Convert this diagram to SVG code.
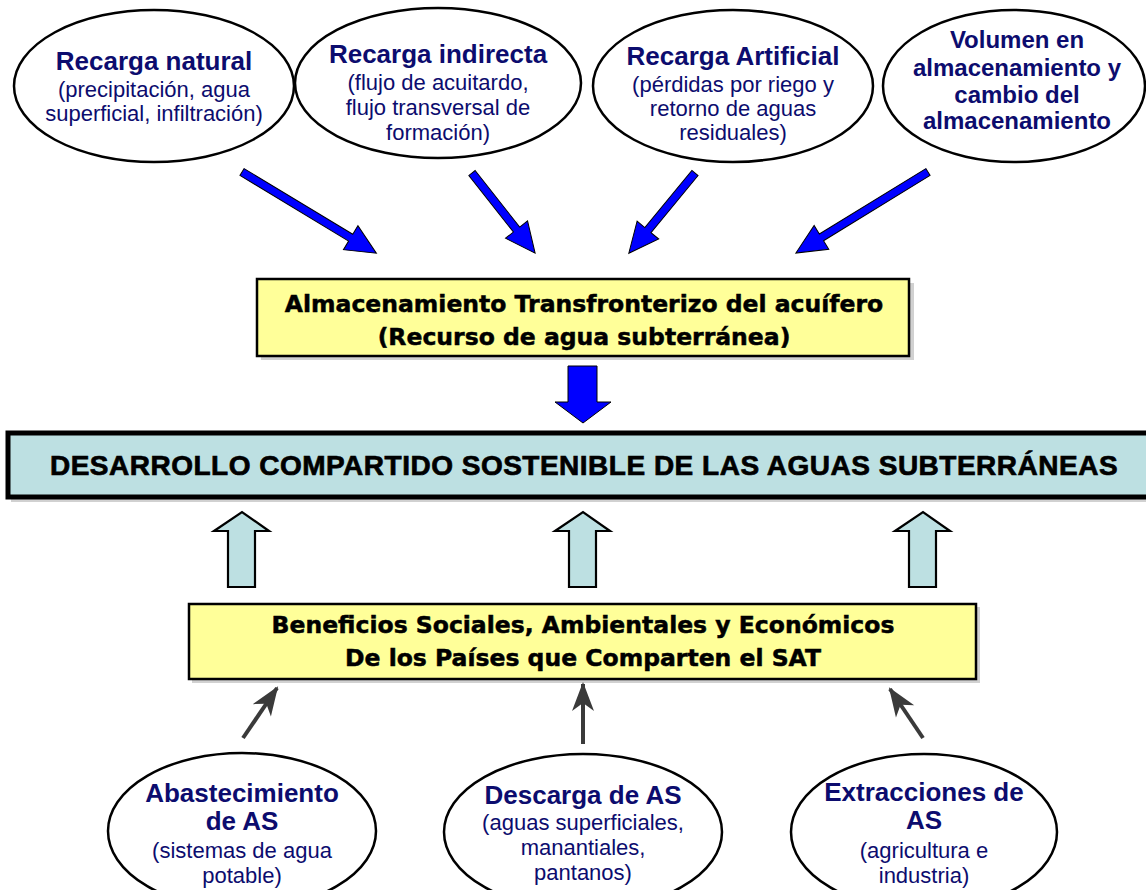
<svg xmlns="http://www.w3.org/2000/svg" width="1146" height="890" viewBox="0 0 1146 890">
<style>
.ell{fill:#fff;stroke:#000;stroke-width:2.5}
.t{font-family:"Liberation Sans",Arial,sans-serif;fill:#0c0c6e;text-anchor:middle}
.tb{font-weight:bold;font-size:26px}
.tv{font-weight:bold;font-size:24px}
.ts{font-size:22px}
.box{fill:#ffff99;stroke:#000;stroke-width:2.5}
.shadow{fill:#9a9a9a;opacity:0.45}
.bt{font-family:"DejaVu Sans",Verdana,sans-serif;font-weight:bold;font-size:23.5px;fill:#000;stroke:#000;stroke-width:0.5;text-anchor:middle}
.blue{fill:#0000ff;stroke:#000;stroke-width:1}
.hollow{fill:#bde0e2;stroke:#000;stroke-width:2.2}
.dark{stroke:#3a3a3a;stroke-width:4;fill:none}
</style>
<defs>
<marker id="dh" markerUnits="userSpaceOnUse" markerWidth="34" markerHeight="26" viewBox="-30 -13 34 26" refX="0" refY="0" orient="auto">
<path d="M2,0 L-27,-11 L-19,0 L-27,11 Z" fill="#3a3a3a"/>
</marker>
</defs>

<g id="n-recarga-natural">
<ellipse class="ell" cx="154" cy="86" rx="140" ry="76"/>
<text class="t tb" x="154" y="70">Recarga natural</text>
<text class="t ts" x="154" y="97">(precipitación, agua</text>
<text class="t ts" x="154" y="121">superficial, infiltración)</text>
</g>
<g id="n-recarga-indirecta">
<ellipse class="ell" cx="438" cy="83" rx="143" ry="75"/>
<text class="t tb" x="438" y="63">Recarga indirecta</text>
<text class="t ts" x="438" y="90">(flujo de acuitardo,</text>
<text class="t ts" x="438" y="115">flujo transversal de</text>
<text class="t ts" x="438" y="140">formación)</text>
</g>
<g id="n-recarga-artificial">
<ellipse class="ell" cx="733" cy="86" rx="140" ry="76"/>
<text class="t tb" x="733" y="65">Recarga Artificial</text>
<text class="t ts" x="733" y="92">(pérdidas por riego y</text>
<text class="t ts" x="733" y="116">retorno de aguas</text>
<text class="t ts" x="733" y="140">residuales)</text>
</g>
<g id="n-volumen">
<ellipse class="ell" cx="1014" cy="86" rx="131" ry="76"/>
<text class="t tv" x="1017" y="48">Volumen en</text>
<text class="t tv" x="1017" y="76">almacenamiento y</text>
<text class="t tv" x="1017" y="103">cambio del</text>
<text class="t tv" x="1017" y="129">almacenamiento</text>
</g>

<g id="n-almacenamiento">
<rect class="shadow" x="261" y="283" width="653" height="77"/>
<rect class="box" x="257" y="279" width="652" height="77"/>
<text class="bt" x="584" y="312">Almacenamiento Transfronterizo del acuífero</text>
<text class="bt" x="584" y="345">(Recurso de agua subterránea)</text>
</g>

<g id="n-desarrollo">
<rect class="shadow" x="11" y="436" width="1145" height="66"/>
<rect x="8" y="433" width="1145" height="64" fill="#bde0e2" stroke="#000" stroke-width="5"/>
<text x="584" y="475" font-family="'Liberation Sans',Arial,sans-serif" font-weight="bold" font-size="28" letter-spacing="0.5" text-anchor="middle" fill="#000" stroke="#000" stroke-width="0.7">DESARROLLO COMPARTIDO SOSTENIBLE DE LAS AGUAS SUBTERRÁNEAS</text>
</g>

<g id="n-beneficios">
<rect class="shadow" x="192" y="607" width="788" height="76"/>
<rect class="box" x="189" y="604" width="787" height="75"/>
<text class="bt" x="583" y="633">Beneficios Sociales, Ambientales y Económicos</text>
<text class="bt" x="583" y="666">De los Países que Comparten el SAT</text>
</g>

<g id="n-abastecimiento">
<ellipse class="ell" cx="242" cy="831" rx="134" ry="78"/>
<text class="t tb" x="242" y="802">Abastecimiento</text>
<text class="t tb" x="242" y="830">de AS</text>
<text class="t ts" x="242" y="858">(sistemas de agua</text>
<text class="t ts" x="242" y="883">potable)</text>
</g>
<g id="n-descarga">
<ellipse class="ell" cx="583" cy="832" rx="139" ry="78"/>
<text class="t tb" x="583" y="804">Descarga de AS</text>
<text class="t ts" x="583" y="830">(aguas superficiales,</text>
<text class="t ts" x="583" y="855">manantiales,</text>
<text class="t ts" x="583" y="880">pantanos)</text>
</g>
<g id="n-extracciones">
<ellipse class="ell" cx="924" cy="832" rx="133" ry="78"/>
<text class="t tb" x="924" y="801">Extracciones de</text>
<text class="t tb" x="924" y="829">AS</text>
<text class="t ts" x="924" y="858">(agricultura e</text>
<text class="t ts" x="924" y="883">industria)</text>
</g>

<g id="connectors">
<polygon class="blue" transform="translate(242,172) rotate(31.15)" points="0,-4 127,-4 127,-14 157,0 127,14 127,4 0,4"/>
<polygon class="blue" transform="translate(472,173) rotate(51.78)" points="0,-4 72,-4 72,-14 102,0 72,14 72,4 0,4"/>
<polygon class="blue" transform="translate(695,173) rotate(129.52)" points="0,-4 74,-4 74,-14 104,0 74,14 74,4 0,4"/>
<polygon class="blue" transform="translate(928,172) rotate(148.47)" points="0,-4 125,-4 125,-14 155,0 125,14 125,4 0,4"/>
<polygon class="blue" points="568,366 597,366 597,402 611,402 583,423 555,402 568,402"/>
<polygon class="hollow" points="228,587 255,587 255,531 269,531 242,512 214,531 228,531"/>
<polygon class="hollow" points="569,587 596,587 596,531 610,531 583,512 555,531 569,531"/>
<polygon class="hollow" points="909,587 936,587 936,531 950,531 923,512 895,531 909,531"/>
<line class="dark" x1="243" y1="738" x2="277" y2="688" marker-end="url(#dh)"/>
<line class="dark" x1="583" y1="744" x2="583" y2="684" marker-end="url(#dh)"/>
<line class="dark" x1="923" y1="738" x2="890" y2="689" marker-end="url(#dh)"/>
</g>
</svg>
